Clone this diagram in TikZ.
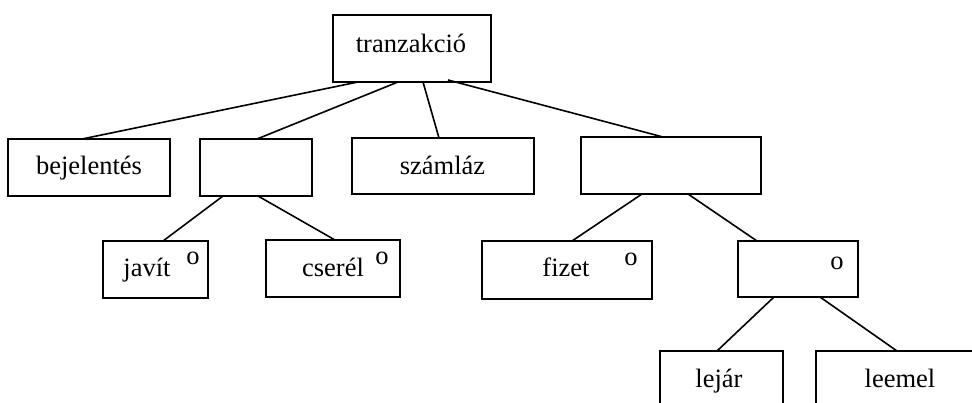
\documentclass[tikz,border=0pt]{standalone}
\usepackage{fontspec}
\setmainfont{Liberation Serif}
\begin{document}
\begin{tikzpicture}[x=1pt,y=-1pt,
  box/.style={draw,line width=1.7pt,anchor=north west,inner sep=0pt,outer sep=0pt},
  lab/.style={anchor=base,inner sep=0pt,font=\fontsize{26.5}{30}\selectfont},
  link/.style={line width=1.6pt}]
\clip (0,0) rectangle (972,403);
% boxes
\node[box,minimum width=158pt,minimum height=67pt] (tr) at (333,15) {};
\node[box,minimum width=162pt,minimum height=57pt] (bej) at (8,139) {};
\node[box,minimum width=112pt,minimum height=57pt] (e1) at (200,139) {};
\node[box,minimum width=182pt,minimum height=56pt] (sz) at (352,138) {};
\node[box,minimum width=180pt,minimum height=57pt] (e2) at (581,137) {};
\node[box,minimum width=105pt,minimum height=57pt] (jav) at (103,241) {};
\node[box,minimum width=134pt,minimum height=57pt] (cs) at (266,240) {};
\node[box,minimum width=170pt,minimum height=58pt] (fz) at (482,241) {};
\node[box,minimum width=120pt,minimum height=56pt] (e3) at (738,241) {};
\node[box,minimum width=123pt,minimum height=56pt] (lj) at (660,351) {};
\node[box,minimum width=190pt,minimum height=56pt] (le) at (816,351) {};
% labels
\node[lab] (trt) at (411,52.5) {tranzakció};
\node[lab] (bejt) at (89,175) {bejelentés};
\node[lab] (szt) at (442.5,175) {számláz};
\node[lab] (javt) at (147,277) {javít};
\node[lab] (cst) at (333,277) {cserél};
\node[lab] (fzt) at (566,277) {fizet};
\node[lab] (ljt) at (719,387) {lejár};
\node[lab] (let) at (900,387) {leemel};
% o markers
\node[lab] (o1) at (193,265) {o};
\node[lab] (o2) at (382,265) {o};
\node[lab] (o3) at (631,266) {o};
\node[lab] (o4) at (837,270) {o};
% connectors
\draw[link] ([xshift=25pt]tr.south west) -- ([xshift=74pt]bej.north west);
\draw[link] ([xshift=65pt]tr.south west) -- ([xshift=57pt]e1.north west);
\draw[link] ([xshift=90pt]tr.south west) -- ([xshift=87pt]sz.north west);
\draw[link] ([xshift=115pt,yshift=2pt]tr.south west) -- ([xshift=82pt]e2.north west);
\draw[link] ([xshift=23pt]e1.south west) -- ([xshift=60pt]jav.north west);
\draw[link] ([xshift=58pt]e1.south west) -- ([xshift=69pt]cs.north west);
\draw[link] ([xshift=61pt]e2.south west) -- ([xshift=90pt]fz.north west);
\draw[link] ([xshift=107pt]e2.south west) -- ([xshift=19pt]e3.north west);
\draw[link] ([xshift=36pt]e3.south west) -- ([xshift=57pt]lj.north west);
\draw[link] ([xshift=82pt]e3.south west) -- ([xshift=81pt]le.north west);
\end{tikzpicture}
\end{document}
